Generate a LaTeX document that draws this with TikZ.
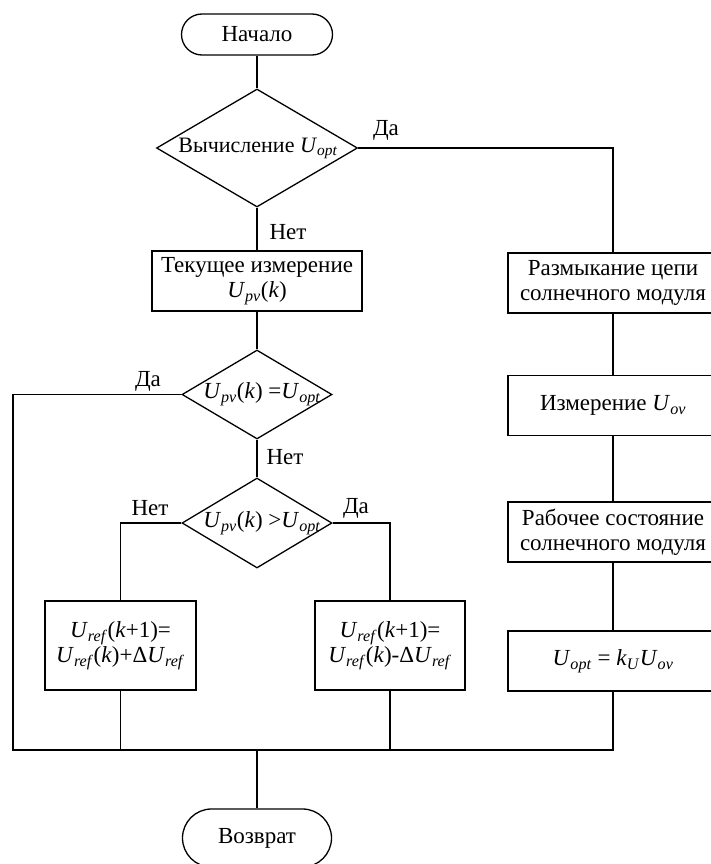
\documentclass[tikz,border=0pt]{standalone}
\usepackage{fontspec}
\setmainfont{Liberation Serif}
\usetikzlibrary{shapes.geometric,shapes.misc}
% italic quantity with an italic subscript, e.g. U_opt
\newcommand\Vr[2]{\textit{#1}\textsubscript{\textit{#2}}}

\begin{document}
\begin{tikzpicture}[x=1pt,y=-1pt,
  every node/.style={font=\fontsize{23}{25}\selectfont},
  flow/.style={line width=1.3pt, draw=black},
  terminal/.style={rounded rectangle, draw, line width=1.3pt, inner sep=0pt},
  process/.style={rectangle, draw, line width=1.3pt, inner sep=0pt, align=center},
  decision/.style={diamond, draw, line width=1.3pt, inner sep=0pt},
  answer/.style={inner sep=0pt}]
\useasboundingbox (0,0) rectangle (710,864);

% main column
\node[terminal, minimum width=151pt, minimum height=41pt] (start) at (257,34.5) {Начало};
\node[decision, minimum width=201pt, minimum height=118pt] (calc) at (257,148) {};
\node[font=\fontsize{22}{25}\selectfont] (calctext) at (258,148) {Вычисление \Vr{U}{opt}};
\node[process, minimum width=210pt, minimum height=60pt] (meas) at (257,281)
  {Текущее измерение\\\Vr{U}{pv}(\textit{k})};
\node[decision, minimum width=150pt, minimum height=89pt] (eq) at (257,394.5) {};
\node (eqtext) at (262,394.5) {\Vr{U}{pv}(\textit{k}) =\Vr{U}{opt}};
\node[decision, minimum width=150pt, minimum height=90pt] (gt) at (257,523) {};
\node (gttext) at (262,523) {\Vr{U}{pv}(\textit{k}) >\Vr{U}{opt}};
\node[process, minimum width=151pt, minimum height=89pt] (inc) at (120.5,645.5)
  {\Vr{U}{ref}(\textit{k}+1)=\\\Vr{U}{ref}(\textit{k})+Δ\Vr{U}{ref}};
\node[process, minimum width=150pt, minimum height=89pt] (dec) at (390,645.5)
  {\Vr{U}{ref}(\textit{k}+1)=\\\Vr{U}{ref}(\textit{k})-Δ\Vr{U}{ref}};
\node[terminal, minimum width=149pt, minimum height=58pt] (ret) at (257,838) {Возврат};

% right column
\node[process, minimum width=210pt, minimum height=60pt] (open) at (613,283)
  {Размыкание цепи\\солнечного модуля};
\node[process, minimum width=210pt, minimum height=60pt] (voc) at (613,405.5)
  {Измерение \Vr{U}{ov}};
\node[process, minimum width=210pt, minimum height=60pt] (work) at (613,532)
  {Рабочее состояние\\солнечного модуля};
\node[process, minimum width=210pt, minimum height=60pt] (kopt) at (613,661)
  {\Vr{U}{opt} = \textit{k}\textsubscript{\textit{U}}\Vr{U}{ov}};

% junction line
\coordinate (jl) at (13,750);
\coordinate (jr) at (613,750);
\coordinate (jm) at (ret.north |- jl);

% connectors
\draw[flow] (start.south) -- (calc.north);
\draw[flow] (calc.south) -- (meas.north);
\draw[flow] (calc.east) -| (open.north);
\draw[flow] (meas.south) -- (eq.north);
\draw[flow] (eq.west) -| (jl) -- (jr) -- (kopt.south);
\draw[flow] (eq.south) -- (gt.north);
\draw[flow] (gt.west) -| (inc.north);
\draw[flow] (gt.east) -| (dec.north);
\draw[flow] (inc.south) -- (inc.south |- jl);
\draw[flow] (dec.south) -- (dec.south |- jl);
\draw[flow] (open.south) -- (voc.north);
\draw[flow] (voc.south) -- (work.north);
\draw[flow] (work.south) -- (kopt.north);
\draw[flow] (jm) -- (ret.north);

% branch labels
\node[answer] (yes1) at (386,130) {Да};
\node[answer] (no1) at (288,232) {Нет};
\node[answer] (yes2) at (148,381) {Да};
\node[answer] (no2) at (285,457) {Нет};
\node[answer] (no3) at (150,508) {Нет};
\node[answer] (yes3) at (356,508) {Да};
\end{tikzpicture}
\end{document}
